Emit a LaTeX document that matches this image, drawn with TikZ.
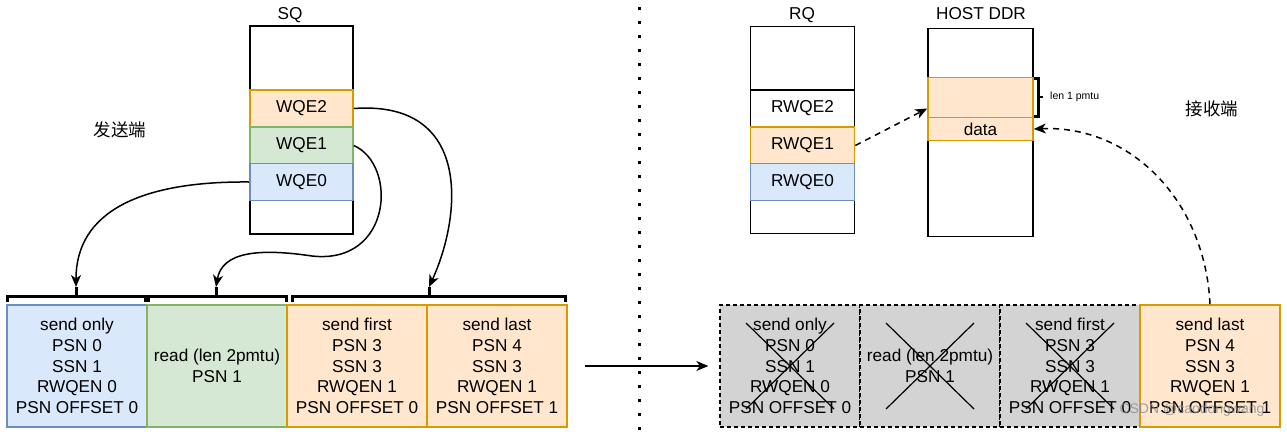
\documentclass[tikz,border=0pt]{standalone}
\usepackage{fontspec}
\setmainfont{Liberation Sans}
\newfontfamily\cjk{Noto Sans CJK SC}
\usetikzlibrary{arrows.meta}
\definecolor{bluef}{HTML}{DAE8FC}\definecolor{blued}{HTML}{6C8EBF}
\definecolor{greenf}{HTML}{D5E8D4}\definecolor{greend}{HTML}{82B366}
\definecolor{orf}{HTML}{FFE6CC}\definecolor{ord}{HTML}{D79B00}
\definecolor{greyf}{HTML}{D3D3D3}
\begin{document}
\begin{tikzpicture}[x=1pt,y=-1pt,
  txt/.style={font=\fontsize{17.2}{20.8}\selectfont, align=center},
  cell/.style={draw, line width=1.6pt, inner sep=0pt, txt},
  qbox/.style={cell, draw=black, fill=white},
  bluec/.style={cell, fill=bluef, draw=blued},
  greenc/.style={cell, fill=greenf, draw=greend},
  orc/.style={cell, fill=orf, draw=ord},
  whc/.style={cell, fill=white, draw=black},
  greyc/.style={cell, fill=greyf, draw=black, line width=1.3pt, dash pattern=on 4pt off 3pt},
  brace/.style={line width=3pt, line cap=butt},
  conn/.style={line width=1.5pt, -{Stealth[length=12pt,width=10pt,inset=3.5pt]}},
  dconn/.style={line width=1.5pt, dash pattern=on 6pt off 5pt, -{Stealth[length=12pt,width=10pt,inset=3.5pt]}},
  cross/.style={line width=1.2pt},
  lbl/.style={font=\fontsize{17.2}{20}\selectfont},
  cjklbl/.style={font=\cjk\fontsize{17.5}{20}\selectfont}
]
\useasboundingbox (0,0) rectangle (1287,434);

% ---------- sender side ----------
\node[lbl] (sqlbl) at (290,15) {SQ};
\node[qbox, minimum width=103pt, minimum height=208pt] (sq) at (301.5,130) {};
\node[orc, minimum width=103pt, minimum height=37pt] (wqe2) at (301.5,108.5) {WQE2};
\node[greenc, minimum width=103pt, minimum height=37pt] (wqe1) at (301.5,145.5) {WQE1};
\node[bluec, minimum width=103pt, minimum height=37pt] (wqe0) at (301.5,182) {WQE0};
\node[cjklbl] (send) at (120,130) {发送端};

% packets
\node[bluec, minimum width=140pt, minimum height=122pt] (b1) at (77,366)
  {send only\\PSN 0\\SSN 1\\RWQEN 0\\PSN OFFSET 0};
\node[greenc, minimum width=140pt, minimum height=122pt] (b2) at (217,366)
  {read (len 2pmtu)\\PSN 1};
\node[orc, minimum width=140pt, minimum height=122pt] (b3) at (357,366)
  {send first\\PSN 3\\SSN 3\\RWQEN 1\\PSN OFFSET 0};
\node[orc, minimum width=140pt, minimum height=122pt] (b4) at (497,366)
  {send last\\PSN 4\\SSN 3\\RWQEN 1\\PSN OFFSET 1};

% braces
\draw[brace] (7,302) -- (7,296) -- (145,296) -- (145,302);
\draw[brace] (148,302) -- (148,296) -- (286,296) -- (286,302);
\draw[brace] (292,302) -- (292,296) -- (565,296) -- (565,302);
\coordinate (k1) at (76,287);
\coordinate (k2) at (216,287);
\coordinate (k3) at (429,287);
\draw[brace] (76,296) -- (k1);
\draw[brace] (216,296) -- (k2);
\draw[brace] (429,296) -- (k3);

% WQE arrows
\draw[conn] (wqe0.west) .. controls (140,181) and (76,212) .. (k1);
\draw[conn] (wqe1.east) .. controls (398,165) and (392,265) .. (312,256)
  .. controls (258,248) and (222,252) .. (k2);
\draw[conn] (wqe2.east) .. controls (472,100) and (462,215) .. (k3);

% separator
\coordinate (s0) at (639,7);
\coordinate (s1) at (639,432);
\draw[line width=3pt, dash pattern=on 3pt off 11pt] (s0) -- (s1);

% ---------- receiver side ----------
\node[greyc, minimum width=140pt, minimum height=122pt] (r1) at (790,366)
  {send only\\PSN 0\\SSN 1\\RWQEN 0\\PSN OFFSET 0};
\node[greyc, minimum width=140pt, minimum height=122pt] (r2) at (930,366)
  {read (len 2pmtu)\\PSN 1};
\node[greyc, minimum width=140pt, minimum height=122pt] (r3) at (1070,366)
  {send first\\PSN 3\\SSN 3\\RWQEN 1\\PSN OFFSET 0};
\node[orc, minimum width=140pt, minimum height=122pt] (r4) at (1210,366)
  {send last\\PSN 4\\SSN 3\\RWQEN 1\\PSN OFFSET 1};
\foreach \n in {r1,r2,r3}{
  \draw[cross] ([shift={(-44pt,43pt)}]\n.center) -- ([shift={(44pt,-43pt)}]\n.center);
  \draw[cross] ([shift={(-44pt,-43pt)}]\n.center) -- ([shift={(44pt,43pt)}]\n.center);
}

\coordinate (h0) at (585,366);
\draw[conn] (h0) -- ([xshift=-11pt]r1.west);

% RQ
\node[lbl] (rqlbl) at (802,15) {RQ};
\node[qbox, minimum width=104pt, minimum height=207pt] (rq) at (802.5,130) {};
\node[whc, minimum width=104pt, minimum height=37pt] (rw2) at (802.5,108.5) {RWQE2};
\node[orc, minimum width=104pt, minimum height=37pt] (rw1) at (802.5,145.5) {RWQE1};
\node[bluec, minimum width=104pt, minimum height=37pt] (rw0) at (802.5,182) {RWQE0};

% HOST DDR
\node[lbl] (ddrlbl) at (981,14) {HOST DDR};
\node[qbox, minimum width=105pt, minimum height=208pt] (ddr) at (980.5,132.5) {};
\node[orc, minimum width=105pt, minimum height=40pt] (buf) at (980.5,97.5) {};
\node[orc, minimum width=105pt, minimum height=23pt] (data) at (980.5,129) {data};
\draw[line width=2.5pt] (1034,78.5) -- (1038.5,78.5) -- (1038.5,116.5) -- (1034,116.5);
\draw[line width=2.5pt] (1038.5,97) -- (1043,97);
\node[anchor=west, font=\fontsize{10.5}{12}\selectfont, inner sep=0pt] (lenlbl) at (1050,97) {len 1 pmtu};

\node[cjklbl] (recv) at (1212,109) {接收端};

\draw[dconn] (rw1.east) -- ([yshift=-11pt]buf.west);
\draw[dconn] (r4.north) .. controls (1205,200) and (1130,125) .. (data.east);

% watermark
\node[text=black!45, opacity=0.8, font=\fontsize{14}{14}\selectfont] (wm) at (1192,410) {CSDN @caodongwang};
\end{tikzpicture}
\end{document}
